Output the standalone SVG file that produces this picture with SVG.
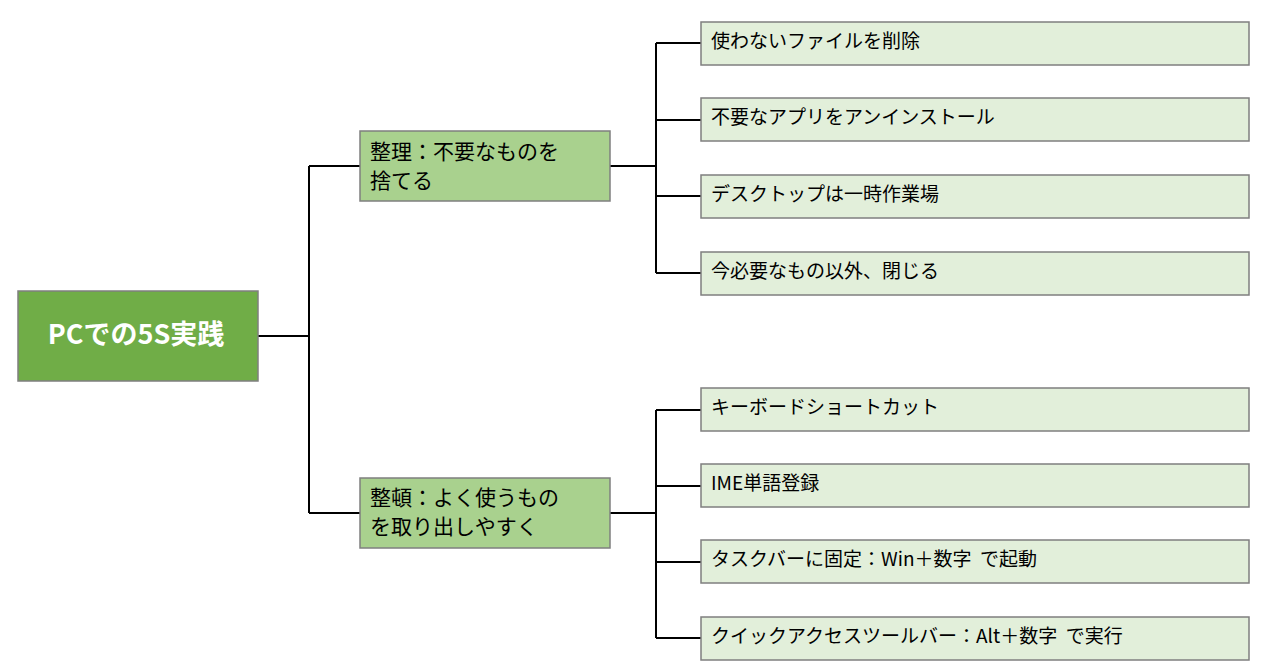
<svg xmlns="http://www.w3.org/2000/svg" width="1280" height="670" viewBox="0 0 1280 670">
<style>
.n{stroke:#7f7f7f;stroke-width:1.5}
.r{fill:#70ad47}.m{fill:#a9d18e}.l{fill:#e2efda}
text{font-family:"Noto Sans CJK JP","Noto Sans",sans-serif;fill:#000}
.lt{font-size:19px}.mt{font-size:21px}
.c{fill:none;stroke:#000;stroke-width:2}
</style>
<rect width="1280" height="670" fill="#fff"/>
<g id="connectors">
<path class="c" d="M258 336H309M309 166V513M309 166H360M309 513H360"/>
<path class="c" d="M610 166H656M656 43V273M656 43H701M656 120H701M656 196H701M656 273H701"/>
<path class="c" d="M610 513H656M656 410V638M656 410H701M656 486H701M656 562H701M656 638H701"/>
</g>
<g id="root"><rect class="n r" x="18" y="291" width="240" height="90"/><text x="136" y="344" text-anchor="middle" font-size="27" font-weight="bold" style="fill:#fff">PCでの5S実践</text></g>
<g id="seiri"><rect class="n m" x="360" y="131" width="250" height="70"/><text class="mt" x="370" y="159">整理：不要なものを</text><text class="mt" x="370" y="188">捨てる</text></g>
<g id="seiton"><rect class="n m" x="360" y="478" width="250" height="70"/><text class="mt" x="370" y="505">整頓：よく使うもの</text><text class="mt" x="370" y="534">を取り出しやすく</text></g>
<g id="l1"><rect class="n l" x="701" y="22" width="548" height="43"/><text class="lt" x="711" y="48">使わないファイルを削除</text></g>
<g id="l2"><rect class="n l" x="701" y="98" width="548" height="43"/><text class="lt" x="711" y="124">不要なアプリをアンインストール</text></g>
<g id="l3"><rect class="n l" x="701" y="175" width="548" height="43"/><text class="lt" x="711" y="201">デスクトップは一時作業場</text></g>
<g id="l4"><rect class="n l" x="701" y="252" width="548" height="43"/><text class="lt" x="711" y="278">今必要なもの以外、閉じる</text></g>
<g id="l5"><rect class="n l" x="701" y="388" width="548" height="43"/><text class="lt" x="711" y="414">キーボードショートカット</text></g>
<g id="l6"><rect class="n l" x="701" y="464" width="548" height="43"/><text class="lt" x="711" y="490">IME単語登録</text></g>
<g id="l7"><rect class="n l" x="701" y="540" width="548" height="43"/><text class="lt" x="711" y="566" xml:space="preserve">タスクバーに固定：Win＋数字  で起動</text></g>
<g id="l8"><rect class="n l" x="701" y="617" width="548" height="43"/><text class="lt" x="711" y="643" xml:space="preserve">クイックアクセスツールバー：Alt＋数字  で実行</text></g>
</svg>
